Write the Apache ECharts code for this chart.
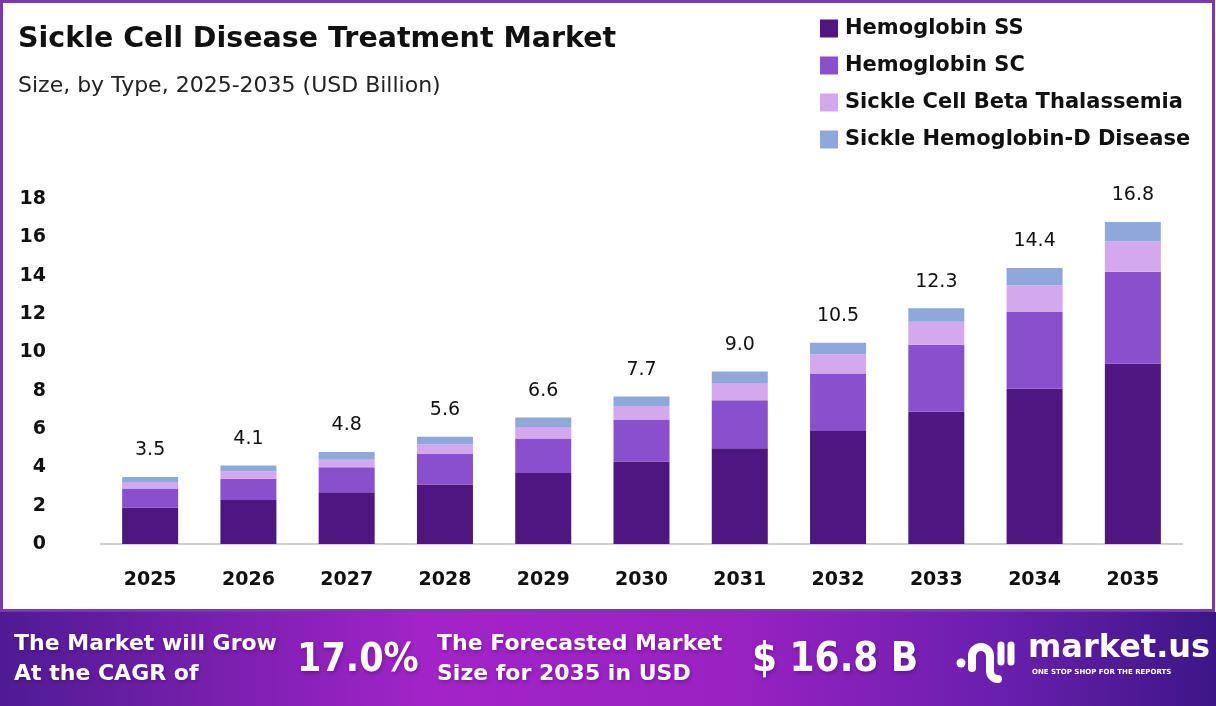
<!DOCTYPE html>
<html>
<head>
<meta charset="utf-8">
<script src="https://cdn.jsdelivr.net/npm/echarts@6/dist/echarts.min.js"></script>
<style>
  html, body { margin: 0; padding: 0; background: #fff; }
  #chart { width: 1216px; height: 706px; }
</style>
</head>
<body>
<div id="chart"></div>
<script>
// data
const years = ['2025', '2026', '2027', '2028', '2029', '2030', '2031', '2032', '2033', '2034', '2035'];
const hbSS = [1.9, 2.3, 2.7, 3.1, 3.7, 4.3, 5.0, 5.9, 6.9, 8.1, 9.4];
const hbSC = [1.0, 1.1, 1.3, 1.6, 1.8, 2.2, 2.5, 3.0, 3.5, 4.0, 4.8];
const betaThal = [0.3, 0.4, 0.4, 0.5, 0.6, 0.7, 0.9, 1.0, 1.2, 1.4, 1.6];
const hbD = [0.3, 0.3, 0.4, 0.4, 0.5, 0.5, 0.6, 0.6, 0.7, 0.9, 1.0];
const seriesNames = ['Hemoglobin SS', 'Hemoglobin SC', 'Sickle Cell Beta Thalassemia', 'Sickle Hemoglobin-D Disease'];
const colors = ['#4f1682', '#8a4fcc', '#d4a8ec', '#8fa8dc'];

const FONT = '"DejaVu Sans", "Noto Sans", sans-serif';
const NARROW = '"DejaVu Sans Condensed", "DejaVu Sans", sans-serif';

// totals for the labels above bars
const totals = years.map((y, i) => hbSS[i] + hbSC[i] + betaThal[i] + hbD[i]);

const mychart = echarts.init(document.getElementById('chart'));

const makeSeries = (name, data, idx) => ({
    name: name,
    type: 'bar',
    stack: 'total',
    data: data,
    barWidth: '57%',
    itemStyle: { color: colors[idx] },
    label: idx === 3 ? {
        show: true,
        position: 'top',
        distance: 17,
        fontFamily: FONT,
        fontSize: 19,
        fontWeight: 500,
        color: '#111',
        formatter: (p) => totals[p.dataIndex].toFixed(1)
    } : { show: false }
});

// banner text style
const bannerText = (text, x, y, size, family, lh) => ({
    type: 'text', silent: true, z: 102, x: x, y: y,
    style: {
        text: text, fill: '#fff', fontFamily: family, fontSize: size, fontWeight: 700,
        lineHeight: lh || size,
        textShadowColor: 'rgba(40,0,60,0.35)', textShadowBlur: 4, textShadowOffsetX: 1, textShadowOffsetY: 2
    }
});

const option = {
    animation: false,
    backgroundColor: '#fff',
    textStyle: { fontFamily: FONT },
    title: [{
        text: 'Sickle Cell Disease Treatment Market',
        left: 13,
        top: 20,
        textStyle: { fontFamily: FONT, fontSize: 28.5, fontWeight: 700, color: '#111' }
    }, {
        text: 'Size, by Type, 2025-2035 (USD Billion)',
        left: 13,
        top: 70,
        textStyle: { fontFamily: FONT, fontSize: 22, fontWeight: 400, color: '#222' }
    }],
    legend: {
        orient: 'vertical',
        left: 815,
        top: 13,
        itemWidth: 18,
        itemHeight: 18,
        itemGap: 16,
        icon: 'rect',
        data: seriesNames,
        textStyle: { fontFamily: FONT, fontSize: 21, fontWeight: 700, color: '#111', lineHeight: 21, padding: [0, 0, 0, 2] }
    },
    grid: { left: 101, right: 34, top: 199, bottom: 162 },
    xAxis: {
        type: 'category',
        data: years,
        axisTick: { show: false },
        axisLine: { lineStyle: { color: '#cfcfcf', width: 2 } },
        axisLabel: { margin: 27, fontFamily: FONT, fontSize: 19, fontWeight: 700, color: '#111' }
    },
    yAxis: {
        type: 'value',
        min: 0,
        max: 18,
        interval: 2,
        splitLine: { show: false },
        axisLine: { show: false },
        axisTick: { show: false },
        axisLabel: { margin: 55, fontFamily: FONT, fontSize: 19, fontWeight: 700, color: '#111' }
    },
    series: [
        makeSeries(seriesNames[0], hbSS, 0),
        makeSeries(seriesNames[1], hbSC, 1),
        makeSeries(seriesNames[2], betaThal, 2),
        makeSeries(seriesNames[3], hbD, 3)
    ],
    graphic: [
        // purple frame round the chart area
        {
            type: 'rect', silent: true, z: 100,
            shape: { x: 1.5, y: 1.5, width: 1212, height: 609 },
            style: { fill: 'none', stroke: '#7b3aa8', lineWidth: 3 }
        },
        // bottom banner
        {
            type: 'rect', silent: true, z: 101,
            shape: { x: 0, y: 612, width: 1216, height: 94 },
            style: {
                fill: new echarts.graphic.LinearGradient(0, 0, 1, 0, [
                    { offset: 0, color: '#4e1b93' },
                    { offset: 0.35, color: '#a224c8' },
                    { offset: 0.6, color: '#9a22c2' },
                    { offset: 0.82, color: '#6a1fae' },
                    { offset: 1, color: '#3d1686' }
                ])
            }
        },
        bannerText('The Market will Grow\nAt the CAGR of', 14, 629, 22, FONT, 30),
        bannerText('17.0%', 297, 641, 39, NARROW),
        bannerText('The Forecasted Market\nSize for 2035 in USD', 437, 629, 22, FONT, 30),
        bannerText('$ 16.8 B', 752, 641, 40, NARROW),
        // logo mark
        {
            type: 'circle', silent: true, z: 102,
            shape: { cx: 961, cy: 663, r: 4.5 },
            style: { fill: '#fff' }
        },
        {
            type: 'line', silent: true, z: 102,
            shape: { x1: 972, y1: 668, x2: 972, y2: 656 },
            style: { stroke: '#fff', lineWidth: 8, lineCap: 'round' }
        },
        {
            type: 'arc', silent: true, z: 102,
            shape: { cx: 981, cy: 656, r: 9, startAngle: Math.PI, endAngle: Math.PI * 2, clockwise: true },
            style: { stroke: '#fff', lineWidth: 8, fill: 'none' }
        },
        {
            type: 'line', silent: true, z: 102,
            shape: { x1: 990, y1: 656, x2: 990, y2: 671 },
            style: { stroke: '#fff', lineWidth: 8 }
        },
        {
            type: 'arc', silent: true, z: 102,
            shape: { cx: 998, cy: 671, r: 8, startAngle: Math.PI, endAngle: Math.PI / 2, clockwise: false },
            style: { stroke: '#fff', lineWidth: 8, fill: 'none', lineCap: 'round' }
        },
        {
            type: 'line', silent: true, z: 102,
            shape: { x1: 1001, y1: 645, x2: 1001, y2: 662 },
            style: { stroke: '#fff', lineWidth: 7, lineCap: 'round' }
        },
        {
            type: 'line', silent: true, z: 102,
            shape: { x1: 1011, y1: 645, x2: 1011, y2: 662 },
            style: { stroke: '#fff', lineWidth: 7, lineCap: 'round' }
        },
        {
            type: 'text', silent: true, z: 102, x: 1028, y: 633,
            style: { text: 'market.us', fill: '#fff', fontFamily: FONT, fontSize: 32, fontWeight: 700 }
        },
        {
            type: 'text', silent: true, z: 102, x: 1032, y: 669,
            style: { text: 'ONE STOP SHOP FOR THE REPORTS', fill: '#fff', fontFamily: FONT, fontSize: 7, fontWeight: 700 }
        }
    ]
};

mychart.setOption(option);
</script>
</body>
</html>
